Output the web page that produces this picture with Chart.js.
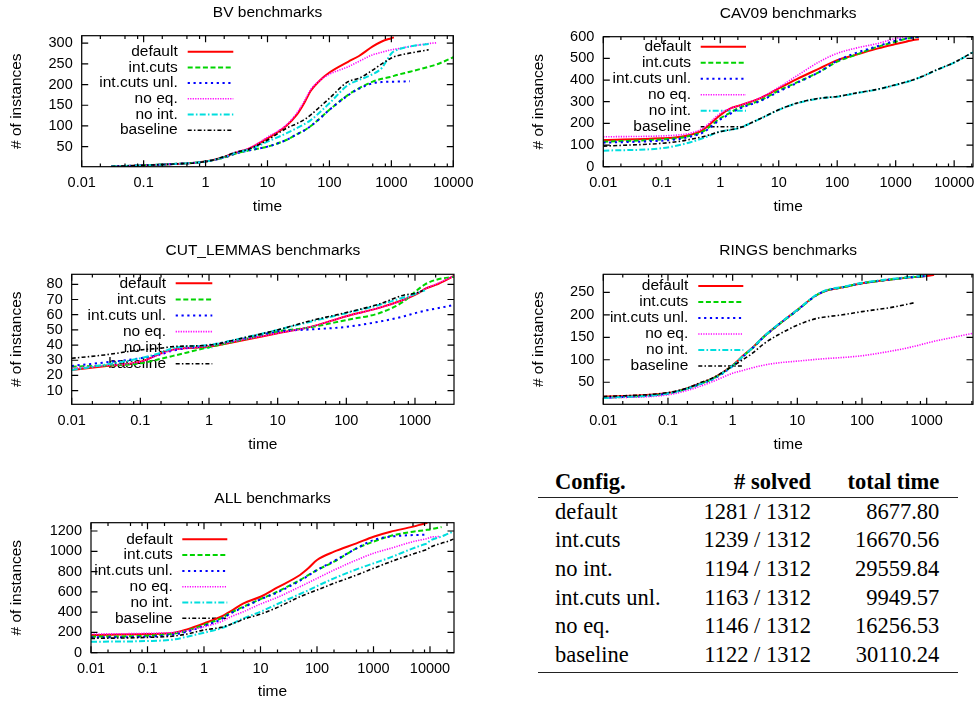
<!DOCTYPE html>
<html><head><meta charset="utf-8">
<script src="https://cdn.jsdelivr.net/npm/chart.js@4.4.1/dist/chart.umd.min.js"></script>
<style>
html,body{margin:0;padding:0;background:#fff;}
body{width:979px;height:702px;position:relative;overflow:hidden;}
canvas{position:absolute;}
.cell{position:absolute;font-family:"Liberation Serif","Times New Roman",serif;font-size:22.5px;line-height:28px;height:28px;white-space:nowrap;color:#000;}
.rule{position:absolute;height:1.3px;background:#222;}
</style></head><body>
<script>
// ---------------- DATA ----------------
const seriesNames = ["default", "int.cuts", "int.cuts unl.", "no eq.", "no int.", "baseline"];

// BV benchmarks
const bvTime       = [0.03, 0.1, 0.3, 1, 2, 3, 5, 10, 20, 30, 40, 50, 70, 100, 200, 300, 500, 700, 1000, 1100, 2000, 4000, 5500, 10000];
const bvDefault    = [2, 5, 8, 14, 25, 35, 45, 70, 100, 128, 158, 185, 210, 229, 255, 269, 292, 304, 312, 314, null, null, null, null];
const bvIntCuts    = [2, 5, 8, 14, 24, 33, 41, 50, 66, 80, 90, 100, 118, 139, 175, 191, 207, 214, 219, 221, 231, 243, 249, 266];
const bvIntCutsUnl = [2, 5, 8, 14, 24, 33, 41, 50, 66, 80, 90, 100, 118, 139, 174, 190, 203, 206, 207, 207, 208, null, null, null];
const bvNoEq       = [2, 5, 8, 14, 25, 36, 46, 73, 102, 132, 162, 188, 210, 225, 243, 256, 272, 278, 284, 285, 292, 299, 301, null];
const bvNoInt      = [2, 5, 8, 14, 25, 35, 43, 62, 82, 95, 105, 114, 133, 155, 199, 211, 225, 240, 275, 280, 292, 298, null, null];
const bvBaseline   = [2, 5, 8, 14, 26, 36, 44, 66, 94, 106, 116, 127, 146, 167, 207, 215, 235, 250, 264, 267, 276, 284, null, null];

// CAV09 benchmarks
const cavTime       = [0.01, 0.1, 0.2, 0.3, 0.5, 1, 1.5, 2, 5, 10, 20, 50, 100, 200, 500, 1000, 1500, 2000, 2500, 2800, 5000, 10000, 21000];
const cavDefault    = [123, 131, 137, 146, 169, 238, 269, 280, 318, 361, 403, 454, 492, 515, 546, 566, 577, 585, 588, null, null, null, null];
const cavIntCuts    = [115, 126, 133, 142, 162, 223, 250, 269, 308, 351, 388, 438, 485, 515, 554, 577, 590, 596, 600, null, null, null, null];
const cavIntCutsUnl = [111, 120, 128, 138, 157, 218, 245, 265, 305, 346, 385, 438, 489, 523, 557, 582, 592, 597, 599, 600, null, null, null];
const cavNoEq       = [138, 142, 147, 154, 177, 246, 270, 280, 320, 366, 418, 485, 523, 546, 569, 592, 600, null, null, null, null, null, null];
const cavNoInt      = [74, 85, 100, 112, 131, 162, 170, 177, 223, 262, 292, 315, 323, 338, 357, 377, 390, 400, 410, 415, 446, 480, 528];
const cavBaseline   = [95, 108, 117, 126, 138, 162, 171, 177, 224, 263, 293, 316, 324, 339, 358, 378, 391, 401, 411, 416, 447, 481, 529];

// CUT_LEMMAS benchmarks
const cutTime       = [0.01, 0.03, 0.1, 0.2, 0.3, 1, 3, 10, 30, 100, 300, 700, 1000, 1300, 1400, 2000, 3700];
const cutDefault    = [23.6, 26, 29, 34.6, 37, 39, 43, 47.8, 52, 59, 64.5, 70, 73, 76, 77, 79.6, 85.5];
const cutIntCuts    = [25.8, 26.5, 28, 31, 32.9, 38.6, 43.4, 48.9, 51.7, 56.5, 61, 69, 75, 79, 80, 82.9, 85];
const cutIntCutsUnl = [26.3, 28.5, 31.3, 34, 36.4, 40, 44, 48.9, 50.3, 52, 55.4, 59, 61, 62.3, 62.7, 64, 66.4];
const cutNoEq       = [24.7, 26.5, 29, 34, 36.8, 39.4, 43.5, 47.8, 52, 59, 64.5, 70, 73.6, 76, 77, 80, 85.5];
const cutNoInt      = [23.6, 27, 31.3, 35, 38, 40, 44.5, 50, 55.4, 61, 66.4, 71.5, 73.6, 75.5, 76, null, null];
const cutBaseline   = [31.3, 33.5, 36.8, 38, 39, 40, 44.5, 50, 56, 61.4, 67, 73, 74, 76, null, null, null];

// RINGS benchmarks
const ringsTime       = [0.01, 0.1, 0.2, 0.3, 0.5, 1, 1.5, 2, 3, 5, 10, 20, 30, 50, 100, 300, 650, 1000, 1300, 5200];
const ringsDefault    = [18, 26, 37, 46, 59, 88, 111, 126, 151, 177, 211, 244, 255, 261, 270, 279, 284, 286, 289, null];
const ringsIntCuts    = [15, 25, 36, 45, 58, 87, 110, 125, 150, 177, 210, 244, 255, 261, 270, 279, 284, 286, null, null];
const ringsIntCutsUnl = [15, 25, 36, 45, 57, 86, 109, 125, 150, 177, 210, 244, 255, 261, 270, 279, 284, 286, null, null];
const ringsNoEq       = [15, 22, 32, 40, 52, 70, 77, 82, 88, 93, 97, 101, 103, 105, 109, 120, 130, 137, 141, 159];
const ringsNoInt      = [15, 25, 36, 45, 58, 87, 110, 126, 151, 178, 211, 245, 256, 262, 271, 280, 285, 287, null, null];
const ringsBaseline   = [18, 27, 37, 47.8, 60, 86, 102, 114, 135, 155, 177, 192, 196, 200, 207, 217, 227, null, null, null];

// ALL benchmarks
const allTime       = [0.01, 0.1, 0.3, 0.5, 1, 2, 3, 5, 10, 20, 50, 70, 100, 200, 500, 1000, 2000, 5000, 8000, 9000, 10000, 15000, 16000, 20000, 26000];
const allDefault    = [174, 184, 197, 230, 289, 355, 410, 487, 552, 644, 766, 832, 914, 996, 1078, 1144, 1193, 1243, 1275, 1281, null, null, null, null, null];
const allIntCuts    = [158, 168, 190, 217, 273, 339, 395, 454, 529, 602, 717, 765, 815, 897, 1029, 1095, 1151, 1193, 1208, 1212, 1216, 1236, 1239, null, null];
const allIntCutsUnl = [151, 158, 180, 207, 263, 329, 390, 447, 526, 595, 710, 760, 815, 904, 1029, 1111, 1144, 1160, 1163, null, null, null, null, null, null];
const allNoEq       = [184, 191, 200, 217, 256, 306, 355, 404, 480, 546, 651, 690, 733, 815, 914, 980, 1029, 1095, 1120, 1126, 1137, 1146, null, null, null];
const allNoInt      = [108, 115, 131, 158, 197, 240, 280, 339, 404, 480, 579, 615, 657, 733, 822, 881, 940, 1029, 1070, 1080, 1105, 1140, 1145, 1170, 1194];
const allBaseline   = [141, 151, 165, 184, 224, 250, 280, 329, 381, 447, 552, 585, 618, 684, 766, 832, 897, 973, 1010, 1020, 1039, 1075, 1080, 1095, 1120];

// tick labels
const xTicks6 = [0.01, 0.1, 1, 10, 100, 1000, 10000];
const xTicks5 = [0.01, 0.1, 1, 10, 100, 1000];
const bvYTicks = [50, 100, 150, 200, 250, 300];
const cavYTicks = [0, 100, 200, 300, 400, 500, 600];
const cutYTicks = [10, 20, 30, 40, 50, 60, 70, 80];
const ringsYTicks = [50, 100, 150, 200, 250];
const allYTicks = [0, 200, 400, 600, 800, 1000, 1200];

// table
const tableHeader = ["Config.", "# solved", "total time"];
const tableConfig = ["default", "int.cuts", "no int.", "int.cuts unl.", "no eq.", "baseline"];
const tableSolved = ["1281 / 1312", "1239 / 1312", "1194 / 1312", "1163 / 1312", "1146 / 1312", "1122 / 1312"];
const tableTime   = ["8677.80", "16670.56", "29559.84", "9949.57", "16256.53", "30110.24"];

// ---------------- STYLE ----------------
const FONT = '"Liberation Sans", Arial, Helvetica, sans-serif';
const lineColors = ["#ff0000", "#00d400", "#0000ff", "#ff00ff", "#00dede", "#000000"];
const lineDashes = [[], [5, 2.6], [2.2, 3.6], [1.2, 1.3], [6, 2.2, 1.6, 2.2], [4, 2.2, 1.5, 2.2]];
const lineWidths = [2, 2, 2, 1.6, 2, 1.6];
const minorMults = [2, 5, 8];
const TICK_FS = 14.5, TEXT_FS = 15.5;

const keyPlugin = {
  id: 'gnuKey',
  beforeDatasetsDraw(chart, args, o) {
    const ctx = chart.ctx;
    ctx.save();
    ctx.font = TEXT_FS + 'px ' + FONT;
    ctx.textAlign = 'right';
    ctx.textBaseline = 'middle';
    ctx.fillStyle = '#000';
    chart.data.datasets.forEach((ds, i) => {
      const y = o.y0 + i * o.step;
      ctx.fillText(ds.label, o.tr, y);
      ctx.beginPath();
      ctx.setLineDash(ds.borderDash || []);
      ctx.lineWidth = ds.borderWidth;
      ctx.strokeStyle = ds.borderColor;
      ctx.moveTo(o.x0, y);
      ctx.lineTo(o.x1, y);
      ctx.stroke();
    });
    ctx.restore();
  }
};

const framePlugin = {
  id: 'gnuFrame',
  afterDatasetsDraw(chart) {
    const ctx = chart.ctx, a = chart.chartArea, x = chart.scales.x, y = chart.scales.y;
    ctx.save();
    ctx.strokeStyle = '#000';
    ctx.lineWidth = 1.2;
    ctx.setLineDash([]);
    ctx.strokeRect(a.left, a.top, a.right - a.left, a.bottom - a.top);
    ctx.beginPath();
    x.ticks.forEach(t => {
      const px = x.getPixelForValue(t.value);
      ctx.moveTo(px, a.bottom); ctx.lineTo(px, a.bottom - 6.5);
      ctx.moveTo(px, a.top); ctx.lineTo(px, a.top + 6.5);
    });
    const d0 = Math.floor(Math.log10(x.min)), d1 = Math.ceil(Math.log10(x.max));
    for (let d = d0; d <= d1; d++) {
      minorMults.forEach(m => {
        const v = m * Math.pow(10, d);
        if (v > x.min && v < x.max) {
          const px = x.getPixelForValue(v);
          ctx.moveTo(px, a.bottom); ctx.lineTo(px, a.bottom - 3.3);
          ctx.moveTo(px, a.top); ctx.lineTo(px, a.top + 3.3);
        }
      });
    }
    y.ticks.forEach(t => {
      const py = y.getPixelForValue(t.value);
      ctx.moveTo(a.left, py); ctx.lineTo(a.left + 6.5, py);
      ctx.moveTo(a.right, py); ctx.lineTo(a.right - 6.5, py);
    });
    ctx.stroke();
    ctx.restore();
  }
};

function panel(p) {
  const c = document.createElement('canvas');
  c.width = p.box.w; c.height = p.box.h;
  c.style.left = p.box.x + 'px'; c.style.top = p.box.y + 'px';
  c.style.width = p.box.w + 'px'; c.style.height = p.box.h + 'px';
  document.body.appendChild(c);
  const L = p.area.l - p.box.x, T = p.area.t - p.box.y, R = p.area.r - p.box.x, B = p.area.b - p.box.y;
  const lh = TEXT_FS * 1.2;
  const tTop = (p.titleY - p.box.y) - lh / 2;
  const datasets = p.series.map((vals, i) => ({
    label: seriesNames[i],
    data: p.time.map((t, j) => ({x: t, y: vals[j]})).filter(q => q.y !== null),
    borderColor: lineColors[i],
    borderDash: lineDashes[i],
    borderWidth: lineWidths[i],
    pointRadius: 0,
    fill: false,
    cubicInterpolationMode: 'monotone',
    order: 6 - i
  }));
  const tickFont = {family: FONT, size: TICK_FS};
  const textFont = {family: FONT, size: TEXT_FS, weight: 'normal'};
  new Chart(c, {
    type: 'line',
    data: {datasets},
    options: {
      responsive: false, animation: false, devicePixelRatio: 1,
      layout: {padding: {left: 0, top: 0, bottom: 0, right: p.box.w - R}},
      plugins: {
        legend: {display: false}, tooltip: {enabled: false},
        title: {display: true, text: p.title, color: '#000', font: textFont, fullSize: false,
                padding: {top: tTop, bottom: T - tTop - lh}},
        gnuKey: p.key
      },
      scales: {
        x: {
          type: 'logarithmic', min: p.xmin, max: p.xmax,
          grid: {display: false, drawTicks: false}, border: {display: false},
          ticks: {autoSkip: false, maxRotation: 0, minRotation: 0, color: '#000', font: tickFont, padding: 8,
                  callback: v => String(v)},
          title: {display: true, text: 'time', color: '#000', font: textFont,
                  padding: {top: 0, bottom: (p.box.y + p.box.h) - p.xTitleY - lh / 2}},
          afterBuildTicks: s => { s.ticks = p.xTicks.map(v => ({value: v})); },
          afterFit: s => { s.height = p.box.h - B; s.paddingLeft = 0; s.paddingRight = 0; }
        },
        y: {
          type: 'linear', min: p.ymin, max: p.ymax,
          grid: {display: false, drawTicks: false}, border: {display: false},
          ticks: {autoSkip: false, color: '#000', font: tickFont, padding: 9, callback: v => String(v)},
          title: {display: true, text: '# of instances', color: '#000', font: textFont,
                  padding: {top: (p.yTitleX - p.box.x) - lh / 2, bottom: 0}},
          afterBuildTicks: s => { s.ticks = p.yTicks.map(v => ({value: v})); },
          afterFit: s => { s.width = L; s.paddingTop = 0; s.paddingBottom = 0; }
        }
      }
    },
    plugins: [keyPlugin, framePlugin]
  });
}

panel({title: 'BV benchmarks', box: {x: 0, y: 0, w: 490, h: 225},
  area: {l: 81.7, t: 35.7, r: 453.3, b: 166.7}, titleY: 13, xTitleY: 206.7, yTitleX: 16.7,
  xmin: 0.01, xmax: 10000, ymin: 1.6, ymax: 318, xTicks: xTicks6, yTicks: bvYTicks,
  time: bvTime, series: [bvDefault, bvIntCuts, bvIntCutsUnl, bvNoEq, bvNoInt, bvBaseline],
  key: {tr: 177.7, x0: 187.7, x1: 233.3, y0: 51.7, step: 15.7}});

panel({title: 'CAV09 benchmarks', box: {x: 490, y: 0, w: 489, h: 225},
  area: {l: 603.3, t: 36.7, r: 973, b: 166.7}, titleY: 13.3, xTitleY: 206.7, yTitleX: 538.3,
  xmin: 0.01, xmax: 21000, ymin: 0, ymax: 600, xTicks: xTicks6, yTicks: cavYTicks,
  time: cavTime, series: [cavDefault, cavIntCuts, cavIntCutsUnl, cavNoEq, cavNoInt, cavBaseline],
  key: {tr: 691 - 490, x0: 700.7 - 490, x1: 746 - 490, y0: 46.7, step: 16}});

panel({title: 'CUT_LEMMAS benchmarks', box: {x: 0, y: 230, w: 490, h: 230},
  area: {l: 71.7, t: 274.3, r: 454, b: 404.3}, titleY: 250.7, xTitleY: 445, yTitleX: 16.7,
  xmin: 0.01, xmax: 3700, ymin: 1, ymax: 86.6, xTicks: xTicks5, yTicks: cutYTicks,
  time: cutTime, series: [cutDefault, cutIntCuts, cutIntCutsUnl, cutNoEq, cutNoInt, cutBaseline],
  key: {tr: 166, x0: 175.7, x1: 212.3, y0: 283.3 - 230, step: 16.1}});

panel({title: 'RINGS benchmarks', box: {x: 490, y: 230, w: 489, h: 230},
  area: {l: 603.3, t: 274.3, r: 973, b: 404.3}, titleY: 250.7, xTitleY: 445, yTitleX: 538.3,
  xmin: 0.01, xmax: 5200, ymin: 1, ymax: 290, xTicks: xTicks5, yTicks: ringsYTicks,
  time: ringsTime, series: [ringsDefault, ringsIntCuts, ringsIntCutsUnl, ringsNoEq, ringsNoInt, ringsBaseline],
  key: {tr: 688.3 - 490, x0: 698.3 - 490, x1: 743.3 - 490, y0: 286 - 230, step: 16}});

panel({title: 'ALL benchmarks', box: {x: 0, y: 478, w: 490, h: 224},
  area: {l: 91, t: 522.7, r: 454, b: 652.7}, titleY: 498.3, xTitleY: 691.7, yTitleX: 16.7,
  xmin: 0.01, xmax: 26600, ymin: 0, ymax: 1282, xTicks: xTicks6, yTicks: allYTicks,
  time: allTime, series: [allDefault, allIntCuts, allIntCutsUnl, allNoEq, allNoInt, allBaseline],
  key: {tr: 172.7, x0: 182.3, x1: 227.3, y0: 539.3 - 478, step: 15.8}});

// ---------------- TABLE ----------------
function cell(text, y, opts) {
  const d = document.createElement('div');
  d.className = 'cell';
  d.textContent = text;
  d.style.top = (y - 14) + 'px';
  if (opts.left !== undefined) d.style.left = opts.left + 'px';
  if (opts.right !== undefined) { d.style.right = (979 - opts.right) + 'px'; d.style.textAlign = 'right'; }
  if (opts.bold) d.style.fontWeight = 'bold';
  document.body.appendChild(d);
}
function rule(y) {
  const r = document.createElement('div');
  r.className = 'rule';
  r.style.left = '538px'; r.style.width = '420px'; r.style.top = (y - 0.65) + 'px';
  document.body.appendChild(r);
}
const headY = 481.7, rowY0 = 511.7, rowStep = 28.65;
cell(tableHeader[0], headY, {left: 555, bold: true});
cell(tableHeader[1], headY, {right: 811, bold: true});
cell(tableHeader[2], headY, {right: 939.3, bold: true});
rule(497.7);
tableConfig.forEach((name, i) => {
  const y = rowY0 + i * rowStep;
  cell(name, y, {left: 555});
  cell(tableSolved[i], y, {right: 811});
  cell(tableTime[i], y, {right: 939.3});
});
rule(672.7);
</script>
</body></html>
